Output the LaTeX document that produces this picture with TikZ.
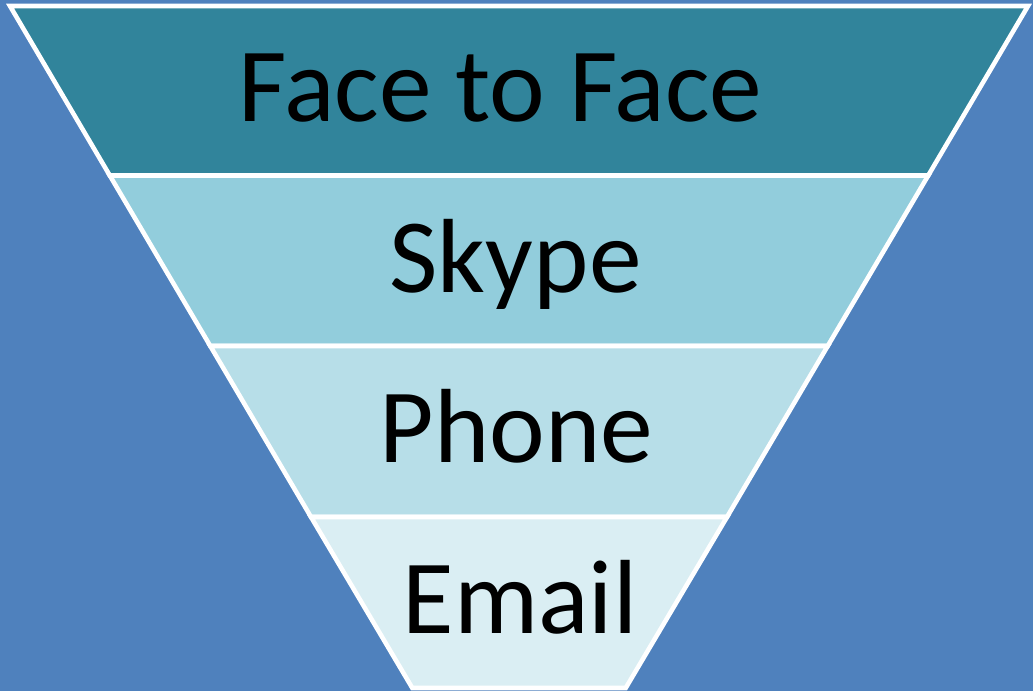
\documentclass[tikz,border=0pt]{standalone}
\usepackage{fontspec}
\setmainfont{Carlito}

\definecolor{bgblue}{RGB}{79,129,189}
\definecolor{tealdark}{RGB}{49,132,155}
\definecolor{tealmid}{RGB}{146,205,220}
\definecolor{teallight}{RGB}{183,222,232}
\definecolor{tealpale}{RGB}{218,238,243}

\begin{document}
\begin{tikzpicture}[
    x=0.02cm, y=-0.02cm,
    band/.style={draw=white, line width=2.6pt, line join=miter},
    tier/.style={anchor=base, inner sep=0pt, text=black,
                 font=\fontsize{60}{68}\selectfont},
]

% Page and background
\useasboundingbox (0,0) rectangle (1033,691);
\fill[bgblue] (0,0) rectangle (1033,691);

% Funnel bands, widest at the top
%   left edge runs from (10,6) down to (412,689), right edge mirrors it about x=519
\filldraw[band, fill=tealdark]  (10,6) -- (1028,6) -- (928.2,175.5) -- (109.8,175.5) -- cycle;
\filldraw[band, fill=tealmid]   (109.8,175.5) -- (928.2,175.5) -- (827.7,346) -- (210.3,346) -- cycle;
\filldraw[band, fill=teallight] (210.3,346) -- (827.7,346) -- (727,517) -- (311,517) -- cycle;
\filldraw[band, fill=tealpale]  (311,517) -- (727,517) -- (625.7,688) -- (412.3,688) -- cycle;

% Labels, one per band (placed on their baselines)
\node[tier] (face)  at (500.5,121) {Face to Face};
\node[tier] (skype) at (515.5,292) {Skype};
\node[tier] (phone) at (516.5,462) {Phone};
\node[tier] (email) at (520,633)   {Email};

\end{tikzpicture}
\end{document}
